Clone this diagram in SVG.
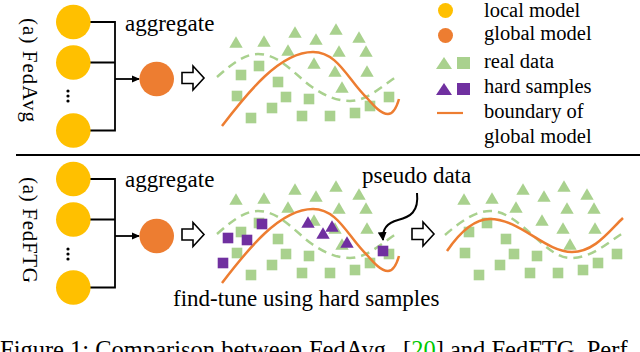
<svg xmlns="http://www.w3.org/2000/svg" xmlns:xlink="http://www.w3.org/1999/xlink" width="640" height="352" viewBox="0 0 640 352">
<style>
text{font-family:'Liberation Serif','Times New Roman',Times,serif;fill:#000}
.lg{font-size:20.5px}
.mn{font-size:23px}
.loc{fill:#FFC000}
.glo{fill:#ED7D31}
.gr{fill:#A9D18E}
.pu{fill:#7030A0}
.br{fill:none;stroke:#000;stroke-width:1.8}
.dash{fill:none;stroke:#A9D18E;stroke-width:2.5;stroke-dasharray:9 6}
.bd{fill:none;stroke:#ED7D31;stroke-width:2.5}
.ba{fill:#fff;stroke:#000;stroke-width:1.6;stroke-linejoin:miter}
</style>
<defs>
<marker id="ah" markerWidth="8" markerHeight="8" refX="7" refY="4" orient="auto" markerUnits="userSpaceOnUse">
<path d="M0,0.5 L8,4 L0,7.5 Z" fill="#000"/>
</marker>
<marker id="ah2" markerWidth="10" markerHeight="10" refX="8" refY="5" orient="auto" markerUnits="userSpaceOnUse">
<path d="M0,0.5 L9,5 L0,9.5 Z" fill="#000"/>
</marker>
<path id="tri" d="M0,-5.7 L6.7,5.7 L-6.7,5.7 Z"/>
<rect id="sq" x="-5.3" y="-5.3" width="10.6" height="10.6"/>
<path id="barrow" d="M0,-5.5 L11,-5.5 L11,-12 L22,0 L11,12 L11,5.5 L0,5.5 Z"/>
<g id="pts" class="gr">
<use xlink:href="#tri" x="236" y="42"/><use xlink:href="#tri" x="264" y="41"/><use xlink:href="#tri" x="295" y="32"/>
<use xlink:href="#tri" x="336" y="29"/><use xlink:href="#tri" x="359" y="37"/><use xlink:href="#tri" x="316" y="39"/>
<use xlink:href="#tri" x="288" y="50"/><use xlink:href="#tri" x="339" y="51"/><use xlink:href="#tri" x="366" y="51"/>
<use xlink:href="#tri" x="314" y="63"/><use xlink:href="#tri" x="335" y="71"/><use xlink:href="#tri" x="367" y="71"/>
<use xlink:href="#tri" x="342" y="87"/>
<use xlink:href="#sq" x="241" y="75"/><use xlink:href="#sq" x="259" y="66"/><use xlink:href="#sq" x="278" y="82"/>
<use xlink:href="#sq" x="237" y="96"/><use xlink:href="#sq" x="286" y="97"/><use xlink:href="#sq" x="309" y="99"/>
<use xlink:href="#sq" x="272" y="108"/><use xlink:href="#sq" x="251" y="118"/><use xlink:href="#sq" x="302" y="116"/>
<use xlink:href="#sq" x="330" y="116"/><use xlink:href="#sq" x="355" y="113"/><use xlink:href="#sq" x="370" y="106"/>
<use xlink:href="#sq" x="389" y="97"/>
</g>
<g id="curvesA">
<path class="dash" d="M217,77 C232,64 244,54 258,54 C280,54 296,76 312,87 C325,96 337,101 350,101 C367,101 382,86 396,77"/>
<path class="bd" d="M222,126 C248,92 280,52 313,52 C338,52 348,80 367,98 C374,106 381,114 388,114 C394,114 397,106 399,99"/>
</g>
</defs>

<!-- labels -->
<text font-family="Liberation Serif, serif" font-size="21" transform="translate(23,18) rotate(90)" textLength="104" lengthAdjust="spacing">(a) FedAvg</text>
<text font-family="Liberation Serif, serif" font-size="21" transform="translate(23,177) rotate(90)" textLength="106" lengthAdjust="spacing">(a) FedFTG</text>

<!-- separator -->
<line x1="16" y1="155" x2="640" y2="155" stroke="#000" stroke-width="2.2"/>

<!-- connectors -->
<g id="connectors">
<path class="br" d="M90,22 H115 V130.5 H90 M90,62.5 H115"/>
<path class="br" d="M115,79 H139" marker-end="url(#ah)"/>
<path class="br" d="M90,179 H115 V287.5 H90 M90,219.5 H115"/>
<path class="br" d="M115,236 H139" marker-end="url(#ah)"/>
<use xlink:href="#barrow" class="ba" x="182" y="78"/>
<use xlink:href="#barrow" class="ba" x="182" y="234.5"/>
<use xlink:href="#barrow" class="ba" x="412" y="234"/>
<path d="M417,193 C419,212 410,217 398,220 C386,223 382,230 383,240" fill="none" stroke="#000" stroke-width="2" marker-end="url(#ah2)"/>
</g>

<!-- FedAvg panel nodes -->
<g id="local-a1"><circle class="loc" cx="73.3" cy="22" r="17.3"/></g>
<g id="local-a2"><circle class="loc" cx="73.3" cy="62.5" r="17.3"/></g>
<g id="dots-a"><circle cx="68" cy="91" r="1.6"/><circle cx="68" cy="96" r="1.6"/><circle cx="68" cy="101" r="1.6"/></g>
<g id="local-a3"><circle class="loc" cx="73.3" cy="130.5" r="17.3"/></g>
<g id="global-a"><circle class="glo" cx="156.7" cy="79" r="17.3"/></g>
<text class="mn" font-family="Liberation Serif, serif" x="125" y="30.5">aggregate</text>

<g id="plot-a">
<use xlink:href="#pts"/>
<use xlink:href="#curvesA"/>
</g>

<!-- FedFTG panel nodes -->
<g id="local-b1"><circle class="loc" cx="73.3" cy="179" r="17.3"/></g>
<g id="local-b2"><circle class="loc" cx="73.3" cy="219.5" r="17.3"/></g>
<g id="dots-b"><circle cx="68" cy="249" r="1.6"/><circle cx="68" cy="254" r="1.6"/><circle cx="68" cy="259" r="1.6"/></g>
<g id="local-b3"><circle class="loc" cx="73.3" cy="287.5" r="17.3"/></g>
<g id="global-b"><circle class="glo" cx="156.7" cy="236" r="17.3"/></g>
<text class="mn" font-family="Liberation Serif, serif" x="125" y="187">aggregate</text>

<g id="plot-b">
<use xlink:href="#pts" transform="translate(0,157)"/>
<use xlink:href="#curvesA" transform="translate(0,157)"/>
<g class="pu">
<use xlink:href="#sq" x="228" y="238"/><use xlink:href="#sq" x="247" y="240"/><use xlink:href="#sq" x="262" y="224"/>
<use xlink:href="#sq" x="223" y="263"/><use xlink:href="#sq" x="383" y="251"/>
<use xlink:href="#tri" x="308" y="222"/><use xlink:href="#tri" x="323" y="233"/><use xlink:href="#tri" x="332" y="226"/>
<use xlink:href="#tri" x="347" y="242"/>
</g>
</g>
<text class="mn" font-family="Liberation Serif, serif" x="362" y="183">pseudo data</text>
<text class="mn" font-family="Liberation Serif, serif" x="173" y="306">find-tune using hard samples</text>

<g id="plot-c">
<use xlink:href="#pts" transform="translate(228,157)"/>
<path class="dash" d="M445,235 C460,222 475,211 490,211 C520,211 545,258 570,258 C592,258 607,243 623,233"/>
<path class="bd" d="M447,251 C460,232 475,219 490,219 C520,219 545,252 572,252 C595,252 610,230 623,218"/>
</g>

<!-- legend -->
<g id="legend" font-family="Liberation Serif, serif">
<circle class="loc" cx="445.5" cy="10.5" r="7.5"/>
<text class="lg" font-family="Liberation Serif, serif" x="484" y="17">local model</text>
<circle class="glo" cx="445.5" cy="35.5" r="7.5"/>
<text class="lg" font-family="Liberation Serif, serif" x="484" y="40">global model</text>
<path class="gr" d="M444,57 L452,69 L436,69 Z"/>
<rect class="gr" x="457" y="57" width="13" height="12"/>
<text class="lg" font-family="Liberation Serif, serif" x="484" y="68">real data</text>
<path class="pu" d="M444,83 L452,95 L436,95 Z"/>
<rect class="pu" x="457" y="83" width="13" height="12"/>
<text class="lg" font-family="Liberation Serif, serif" x="484" y="92.5">hard samples</text>
<line x1="437" y1="113" x2="463" y2="113" stroke="#ED7D31" stroke-width="2.2"/>
<text class="lg" font-family="Liberation Serif, serif" x="484" y="118">boundary of</text>
<text class="lg" font-family="Liberation Serif, serif" x="484" y="143">global model</text>
</g>

<!-- caption (cut off as in the reference) -->
<text font-family="Liberation Serif, serif" font-size="24.5" x="0" y="358">Figure 1: Comparison between FedAvg <tspan x="403">[</tspan><tspan fill="#00C800">20</tspan>] and FedFTG. Perf</text>
</svg>
